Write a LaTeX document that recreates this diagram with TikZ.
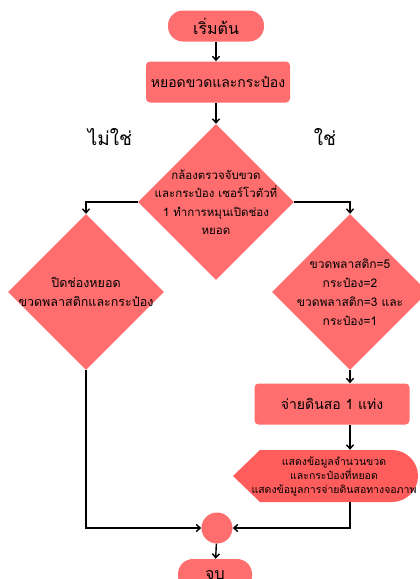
\documentclass[tikz,border=0pt]{standalone}
\usepackage{fontspec}
\setmainfont[Script=Thai]{Loma}
\usetikzlibrary{shapes.geometric,arrows.meta}
\definecolor{boxred}{HTML}{FF6E6E}
\definecolor{showred}{HTML}{FF5C5C}
\begin{document}
\begin{tikzpicture}[x=1pt,y=-1pt,
    pill/.style={fill=boxred,rounded corners=15pt,minimum width=96pt,minimum height=31pt,font=\fontsize{16}{18}\selectfont},
    task/.style={fill=boxred,rounded corners=4pt,minimum height=41pt,font=\fontsize{14}{16}\selectfont},
    decide/.style={diamond,fill=boxred,aspect=1,inner sep=-14pt,minimum width=156pt,minimum height=156pt,align=center,font=\fontsize{11.5}{18.5}\selectfont},
    answer/.style={font=\fontsize{19}{21}\selectfont}]
  \useasboundingbox (0,0) rectangle (420,579);
  \clip (0,0) rectangle (420,579);
  % display shape
  \fill[showred] (233,476) -- (260,450) -- (392,450) arc[start angle=-90,end angle=90,radius=26] -- (260,502) -- cycle;
  \draw[draw=none]
    (216,26) node[pill] (start){เริ่มต้น}
    (218,82) node[task,minimum width=144pt] (load){หยอดขวดและกระป๋อง}
    (216,202) node[decide] (check){กล้องตรวจจับขวด\\และกระป๋อง เซอร์โวตัวที่\\1 ทำการหมุนเปิดช่อง\\หยอด}
    (86,292) node[decide,font=\fontsize{12.5}{19}\selectfont] (no){ปิดช่องหยอด\\ขวดพลาสติกและกระป๋อง}
    (350,292) node[decide,font=\fontsize{12}{19}\selectfont] (yes){ขวดพลาสติก=5\\กระป๋อง=2\\ขวดพลาสติก=3 และ\\กระป๋อง=1}
    (332,404) node[task,minimum width=155pt] (pay){จ่ายดินสอ 1 แท่ง}
    (334,476) node[minimum height=52pt,align=center,font=\fontsize{10.5}{14}\selectfont] (show){แสดงข้อมูลจำนวนขวด\\และกระป๋องที่หยอด\\แสดงข้อมูลการจ่ายดินสอทางจอภาพ}
    (217,528) node[circle,fill=boxred,minimum size=31pt] (join){}
    (215,575) node[pill,minimum width=74pt,minimum height=32pt] (stop){จบ}
    (110,137) node[answer] (nolabel){ไม่ใช่}
    (325,137) node[answer] (yeslabel){ใช่};
  \begin{scope}[-{Straight Barb[length=4pt,width=7pt]},line width=1.4pt]
    \draw (start) to (load.north -| start);
    \draw (load.south -| check) to (check.north);
    \draw (check.west) -| (no.north);
    \draw (check.east) -| (yes.north);
    \draw (yes) to (pay.north -| yes);
    \draw (pay.south -| yes) to (show.north -| yes);
    \draw (show.south -| yes) |- (join.east);
    \draw (no) |- (join.west);
    \draw (join) to (stop);
  \end{scope}
\end{tikzpicture}
\end{document}
